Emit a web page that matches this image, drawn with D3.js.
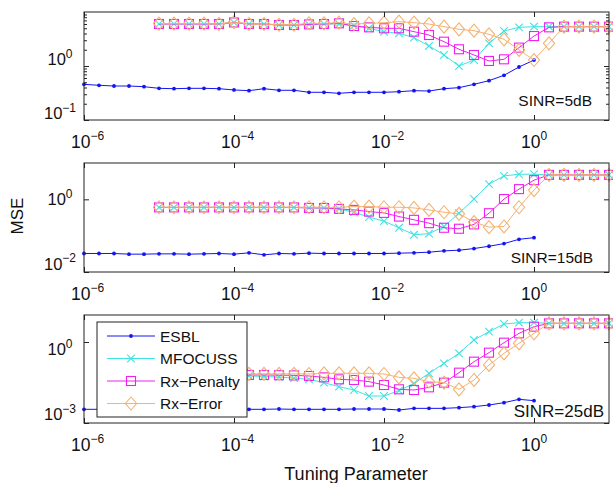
<!DOCTYPE html>
<html>
<head>
<style>
  body { margin: 0; background: #fff; }
  text { font-family: "Liberation Sans", Arial, sans-serif; fill: #111; }
  .frame { fill: none; stroke: #222; stroke-width: 1; }
  .axis line { stroke: #222; }
  .axis path { display: none; }
</style>
</head>
<body>
<svg width="613" height="483"></svg>

<script src="https://cdn.jsdelivr.net/npm/d3@7"></script>
<script>
// tuning parameter grids, as log10 exponents
const expESBL = [-6, -5.8, -5.6, -5.4, -5.2, -5, -4.8, -4.6, -4.4, -4.2, -4, -3.8, -3.6, -3.4, -3.2, -3,
                 -2.8, -2.6, -2.4, -2.2, -2, -1.8, -1.6, -1.4, -1.2, -1, -0.8, -0.6, -0.4, -0.2, 0];
const expRx = [-5, -4.8, -4.6, -4.4, -4.2, -4, -3.8, -3.6, -3.4, -3.2, -3, -2.8, -2.6, -2.4, -2.2, -2,
               -1.8, -1.6, -1.4, -1.2, -1, -0.8, -0.6, -0.4, -0.2, 0, 0.2, 0.4, 0.6, 0.8, 1];

const seriesNames = ["ESBL", "MFOCUSS", "Rx\u2212Penalty", "Rx\u2212Error"];
const xTickVals = [1e-6, 1e-4, 1e-2, 1e0];

// SINR = 5 dB
const esbl5 = [0.458, 0.439, 0.426, 0.426, 0.414, 0.386, 0.380, 0.386, 0.386, 0.380, 0.360, 0.349, 0.380, 0.355, 0.355, 0.326,
               0.326, 0.312, 0.326, 0.326, 0.326, 0.334, 0.349, 0.344, 0.380, 0.397, 0.458, 0.535, 0.673, 0.958, 1.29];
const mfocuss5 = [6.0, 6.0, 6.0, 6.0, 6.0, 6.4, 6.0, 6.0, 5.74, 5.74, 5.9, 6.0, 6.0, 5.6, 5.0, 4.3,
                  4.03, 3.35, 2.35, 1.60, 1.0, 1.29, 2.63, 4.45, 5.2, 5.35, 5.35, 5.35, 5.35, 5.35, 5.35];
const penalty5 = [6.0, 6.0, 6.0, 6.0, 6.0, 6.4, 6.0, 6.0, 5.74, 5.74, 5.9, 6.0, 6.17, 5.5, 5.2, 4.99,
                  4.99, 4.32, 3.75, 2.82, 2.04, 1.60, 1.24, 1.33, 2.19, 3.59, 5.2, 5.35, 5.35, 5.35, 5.35];
const error5 = [6.1, 6.1, 6.1, 6.1, 6.0, 6.5, 6.0, 6.0, 5.8, 5.8, 6.17, 6.17, 6.34, 5.99, 6.17, 6.34,
                6.62, 6.34, 5.99, 5.35, 4.78, 4.51, 3.86, 3.12, 1.98, 1.29, 2.63, 5.35, 5.35, 5.35, 5.35];

// SINR = 15 dB
const esbl15 = [0.0323, 0.0323, 0.0323, 0.0310, 0.0310, 0.0316, 0.0316, 0.0310, 0.0316, 0.0323, 0.0310, 0.0337, 0.0297, 0.0323, 0.0316, 0.0330,
                0.0323, 0.0323, 0.0323, 0.0323, 0.0323, 0.0330, 0.0337, 0.0351, 0.0382, 0.0398, 0.0442, 0.0512, 0.0605, 0.0794, 0.0881];
const mfocuss15 = [0.60, 0.60, 0.60, 0.60, 0.60, 0.60, 0.60, 0.60, 0.60, 0.60, 0.58, 0.58, 0.545, 0.441, 0.323, 0.251,
                   0.165, 0.106, 0.1135, 0.179, 0.415, 1.02, 2.62, 4.42, 4.91, 4.91, 4.71, 4.71, 4.71, 4.71, 4.71];
const penalty15 = [0.60, 0.60, 0.60, 0.60, 0.60, 0.60, 0.60, 0.60, 0.60, 0.60, 0.58, 0.58, 0.545, 0.512, 0.461, 0.424,
                   0.336, 0.273, 0.221, 0.165, 0.155, 0.204, 0.415, 1.02, 1.91, 3.37, 4.71, 4.71, 4.71, 4.71, 4.71];
const error15 = [0.605, 0.605, 0.605, 0.605, 0.605, 0.605, 0.605, 0.605, 0.605, 0.605, 0.605, 0.605, 0.605, 0.631, 0.631, 0.605,
                 0.605, 0.581, 0.512, 0.441, 0.398, 0.236, 0.172, 0.179, 0.605, 1.80, 4.71, 4.71, 4.71, 4.71, 4.71];

// SINR = 25 dB
const esbl25 = [0.00321, 0.00321, 0.00321, 0.0033, 0.00321, 0.00321, 0.00321, 0.00321, 0.00321, 0.0033, 0.00321, 0.00321, 0.00321, 0.0033, 0.00321, 0.00321,
                0.00321, 0.00321, 0.0033, 0.0033, 0.0033, 0.00303, 0.00349, 0.00349, 0.00349, 0.0037, 0.00403, 0.00464, 0.00566, 0.00753, 0.00672];
const mfocuss25 = [0.058, 0.058, 0.058, 0.057, 0.057, 0.056, 0.055, 0.053, 0.050, 0.046, 0.0414, 0.0312, 0.0222, 0.0167, 0.0100, 0.0100,
                   0.0158, 0.0294, 0.0692, 0.162, 0.380, 1.19, 2.41, 4.64, 5.2, 5.2, 4.91, 4.91, 4.91, 4.91, 4.91];
const penalty25 = [0.062, 0.062, 0.062, 0.062, 0.062, 0.061, 0.060, 0.060, 0.059, 0.058, 0.0551, 0.0491, 0.0414, 0.0392, 0.0340, 0.0255,
                   0.0177, 0.0167, 0.0209, 0.0312, 0.0731, 0.187, 0.403, 0.944, 2.09, 3.70, 4.91, 4.91, 4.91, 4.91, 4.91];
const error25 = [0.066, 0.066, 0.066, 0.066, 0.066, 0.066, 0.066, 0.066, 0.066, 0.066, 0.0653, 0.0692, 0.0692, 0.0692, 0.0692, 0.0653,
                 0.0491, 0.0451, 0.0340, 0.0312, 0.0177, 0.0392, 0.141, 0.380, 0.893, 2.09, 4.91, 4.91, 4.91, 4.91, 4.91];

const styles = [
  {color: "#1414f0", marker: "dot"},
  {color: "#3fe3e3", marker: "x"},
  {color: "#f020f0", marker: "square"},
  {color: "#f6b271", marker: "diamond"}
];

const panels = [
  {top: 12, bottom: 120, ylim: [1e-1, 1e1], yticks: [1e-1, 1e0], minor: true, labelShift: [-7, -7],
   series: [esbl5, mfocuss5, penalty5, error5], note: "SINR=5dB", noteSize: 15.5, noteX: 592, noteY: 105.5},
  {top: 163, bottom: 272, ylim: [1e-2, 1e1], yticks: [1e-2, 1e0], minor: false, labelShift: [-8.5, 0],
   series: [esbl15, mfocuss15, penalty15, error15], note: "SINR=15dB", noteSize: 15.5, noteX: 593, noteY: 262.5},
  {top: 315, bottom: 423, ylim: [1e-3, 1e1], yticks: [1e-3, 1e0], minor: false, labelShift: [-9, 7],
   series: [esbl25, mfocuss25, penalty25, error25], note: "SINR=25dB", noteSize: 17, noteX: 604, noteY: 417}
];

const left = 84, right = 609;
const svg = d3.select("svg");
const x = d3.scaleLog().domain([1e-6, 1e1]).range([left, right]);

function expo(v) {
  const e = Math.round(Math.log10(v));
  return (e < 0 ? "\u2212" : "") + Math.abs(e);
}

function marker(g, type, cx, cy, color) {
  if (type === "dot") {
    g.append("circle").attr("cx", cx).attr("cy", cy).attr("r", 1.9).attr("fill", color);
  } else if (type === "x") {
    const s = 3.8;
    g.append("path").attr("d", `M${cx - s},${cy - s}L${cx + s},${cy + s}M${cx - s},${cy + s}L${cx + s},${cy - s}`)
      .attr("stroke", color).attr("stroke-width", 1.1).attr("fill", "none");
  } else if (type === "square") {
    const s = 4.5;
    g.append("rect").attr("x", cx - s).attr("y", cy - s).attr("width", 2 * s).attr("height", 2 * s)
      .attr("stroke", color).attr("stroke-width", 1.1).attr("fill", "none");
  } else {
    const w = 5.6, h = 6.5;
    g.append("path").attr("d", `M${cx},${cy - h}L${cx + w},${cy}L${cx},${cy + h}L${cx - w},${cy}Z`)
      .attr("stroke", color).attr("stroke-width", 1.1).attr("fill", "none");
  }
}

panels.forEach(function(p) {
  const y = d3.scaleLog().domain(p.ylim).range([p.bottom, p.top]);
  const g = svg.append("g");

  // series
  p.series.forEach(function(vals, k) {
    const xs = k === 0 ? expESBL : expRx;
    const pts = vals.map((v, i) => [Math.pow(10, xs[i]), v]);
    const line = d3.line().x(d => x(d[0])).y(d => y(d[1]));
    g.append("path").datum(pts).attr("d", line)
      .attr("fill", "none").attr("stroke", styles[k].color).attr("stroke-width", 1);
    pts.forEach(d => marker(g, styles[k].marker, x(d[0]), y(d[1]), styles[k].color));
  });

  // frame and ticks
  g.append("rect").attr("class", "frame")
    .attr("x", left).attr("y", p.top).attr("width", right - left).attr("height", p.bottom - p.top);

  g.append("g").attr("class", "axis").attr("transform", `translate(0,${p.bottom})`)
    .call(d3.axisBottom(x).tickValues(xTickVals).tickSize(-5).tickFormat(""));
  g.append("g").attr("class", "axis").attr("transform", `translate(0,${p.top})`)
    .call(d3.axisTop(x).tickValues(xTickVals).tickSize(-5).tickFormat(""));
  g.append("g").attr("class", "axis").attr("transform", `translate(${left},0)`)
    .call(d3.axisLeft(y).tickValues(p.yticks).tickSize(-5).tickFormat(""));
  g.append("g").attr("class", "axis").attr("transform", `translate(${right},0)`)
    .call(d3.axisRight(y).tickValues(p.yticks).tickSize(-5).tickFormat(""));

  if (p.minor) {
    const minors = [];
    for (let e = Math.log10(p.ylim[0]); e < Math.log10(p.ylim[1]); e++) {
      for (let m = 2; m <= 9; m++) minors.push(m * Math.pow(10, e));
    }
    g.append("g").attr("class", "axis").attr("transform", `translate(${left},0)`)
      .call(d3.axisLeft(y).tickValues(minors).tickSize(-3).tickFormat(""));
    g.append("g").attr("class", "axis").attr("transform", `translate(${right},0)`)
      .call(d3.axisRight(y).tickValues(minors).tickSize(-3).tickFormat(""));
  }

  // x tick labels
  xTickVals.forEach(function(v) {
    const t = g.append("text").attr("x", x(v) - 13).attr("y", p.bottom + 27.5)
      .attr("font-size", 17.5).text("10");
    t.append("tspan").attr("dy", -8).attr("font-size", 12).text(expo(v));
  });

  // y tick labels
  p.yticks.forEach(function(v, i) {
    const t = g.append("text").attr("x", 60).attr("y", y(v) + p.labelShift[i] + 6)
      .attr("text-anchor", "middle").attr("font-size", 16.5).text("10");
    t.append("tspan").attr("dy", -7.5).attr("font-size", 12).text(expo(v));
  });

  g.append("text").attr("x", p.noteX).attr("y", p.noteY).attr("text-anchor", "end")
    .attr("font-size", p.noteSize).text(p.note);
});

// legend, in the bottom panel
const lg = svg.append("g");
lg.append("rect").attr("x", 97).attr("y", 322).attr("width", 150).attr("height", 95)
  .attr("fill", "#fff").attr("stroke", "#222").attr("stroke-width", 1);
seriesNames.forEach(function(name, k) {
  const ly = 336 + k * 22.5;
  lg.append("line").attr("x1", 107).attr("x2", 155).attr("y1", ly).attr("y2", ly)
    .attr("stroke", styles[k].color).attr("stroke-width", 1);
  marker(lg, styles[k].marker, 131, ly, styles[k].color);
  lg.append("text").attr("x", 160).attr("y", ly + 5.5).attr("font-size", 15.5).text(name);
});

// axis titles
svg.append("text").attr("transform", "translate(23,216) rotate(-90)")
  .attr("text-anchor", "middle").attr("font-size", 17).text("MSE");
svg.append("text").attr("x", 356).attr("y", 480)
  .attr("text-anchor", "middle").attr("font-size", 18).text("Tuning Parameter");
</script>
</body>
</html>
